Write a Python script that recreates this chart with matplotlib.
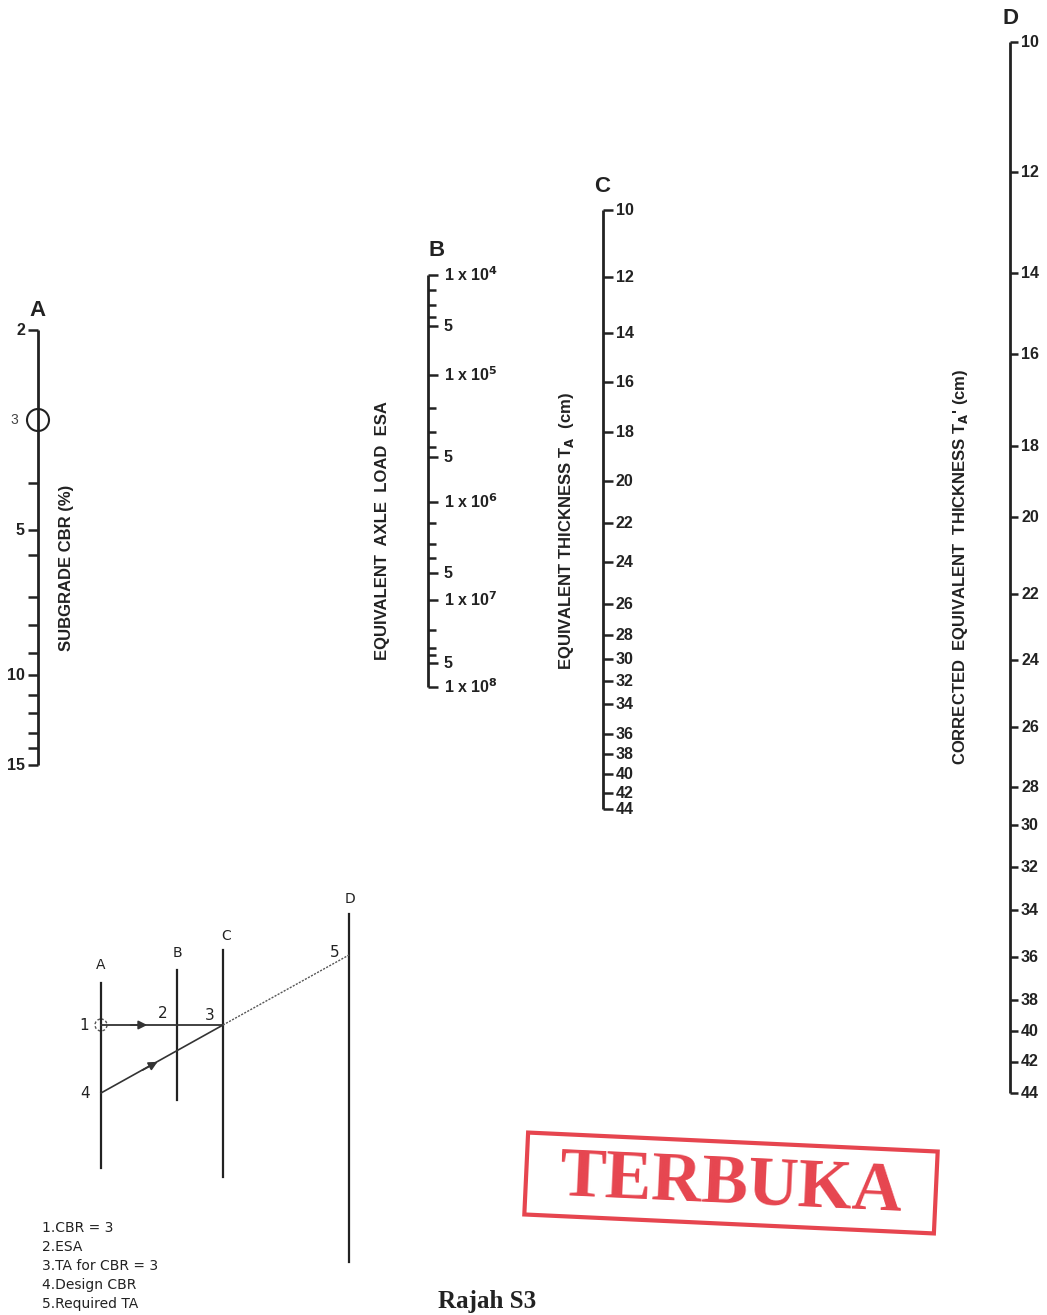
import numpy as np
import matplotlib
matplotlib.use("Agg")
import matplotlib.pyplot as plt
from matplotlib.patches import Circle, Polygon

# ---------------- data ----------------
A_values = [2, 3, 4, 5, 6, 7, 8, 9, 10, 11, 12, 13, 14, 15]
A_labels = {2: "2", 5: "5", 10: "10", 15: "15"}
A_pos = [330, 420, 483, 530, 555, 597, 625, 653, 675, 695, 713, 733, 748, 765]

B_values = [1e4, 2e4, 3e4, 4e4, 5e4, 1e5, 2e5, 3e5, 4e5, 5e5, 1e6, 2e6, 3e6, 4e6, 5e6,
            1e7, 2e7, 3e7, 4e7, 5e7, 1e8]
B_pos = [275, 290, 305, 317, 326, 375, 408, 432, 447, 457, 502, 523, 544, 558, 573,
         600, 630, 648, 655, 663, 687]

C_values = [10, 12, 14, 16, 18, 20, 22, 24, 26, 28, 30, 32, 34, 36, 38, 40, 42, 44]
C_pos = [210, 277, 333, 382, 432, 481, 523, 562, 604, 635, 659, 681, 704, 734, 754, 774, 793, 809]

D_values = [10, 12, 14, 16, 18, 20, 22, 24, 26, 28, 30, 32, 34, 36, 38, 40, 42, 44]
D_pos = [42, 172, 273, 354, 446, 517, 594, 660, 727, 787, 825, 867, 910, 957, 1000, 1031, 1062, 1093]

legend_lines = ["1.CBR = 3", "2.ESA", "3.TA for CBR = 3", "4.Design CBR", "5.Required TA"]

# ---------------- figure ----------------
W, H = 1047, 1315
fig = plt.figure(figsize=(W / 100, H / 100), dpi=100)
ax = fig.add_axes([0, 0, 1, 1])
ax.set_xlim(0, W)
ax.set_ylim(H, 0)
ax.axis("off")

plt.rcParams["mathtext.fontset"] = "custom"
plt.rcParams["mathtext.rm"] = "Liberation Sans Narrow:bold"
plt.rcParams["mathtext.bf"] = "Liberation Sans Narrow:bold"
plt.rcParams["mathtext.it"] = "Liberation Sans Narrow:bold"

NARROW = ["Liberation Sans Narrow", "Liberation Sans", "DejaVu Sans"]
ink = "#222222"
tick_fs = 11.5


def scale(x, values, pos, side, labels, lw_axis=2.0, tick_len=10):
    ax.plot([x, x], [pos[0], pos[-1]], color=ink, lw=lw_axis, solid_capstyle="butt")
    for v, p in zip(values, pos):
        if labels is not None and v not in labels and side == "left" and v == 3:
            continue
        d = -1 if side == "left" else 1
        ax.plot([x, x + d * tick_len], [p, p], color=ink, lw=1.8, solid_capstyle="butt")
        if labels is None:
            txt = str(v)
        else:
            txt = labels.get(v)
        if txt:
            ax.text(x + d * (tick_len + 3), p, txt, ha="right" if side == "left" else "left",
                    va="center", fontsize=tick_fs, fontweight="bold", family=NARROW, color=ink)


# Axis A
scale(38, A_values, A_pos, "left", A_labels)
ax.add_patch(Circle((38, 420), 11, fill=False, lw=1.5, ec=ink))
ax.text(18, 420, "3", ha="right", va="center", fontsize=10, family=NARROW, color="#444444")

# Axis B
B_labels = {1e4: r"1 x 10$^4$", 5e4: "5", 1e5: r"1 x 10$^5$", 5e5: "5",
            1e6: r"1 x 10$^6$", 5e6: "5", 1e7: r"1 x 10$^7$", 5e7: "5", 1e8: r"1 x 10$^8$"}
ax.plot([428, 428], [B_pos[0], B_pos[-1]], color=ink, lw=2.0, solid_capstyle="butt")
for v, p in zip(B_values, B_pos):
    lab = B_labels.get(v)
    ax.plot([428, 438 if lab else 436], [p, p], color=ink, lw=1.8, solid_capstyle="butt")
    if lab:
        ax.text(444, p, lab, ha="left", va="center", fontsize=tick_fs, fontweight="bold",
                family=NARROW, color=ink)

# Axis C and D
scale(603, C_values, C_pos, "right", None)
scale(1010, D_values, D_pos, "right", None, tick_len=8)

# Scale letters
for lx, ly, t in [(38, 310, "A"), (437, 250, "B"), (602, 186, "C"), (1010, 18, "D")]:
    ax.text(lx, ly, t, ha="center", va="center", fontsize=16, fontweight="bold",
            family=["Liberation Sans", "DejaVu Sans"], color=ink)

# Axis titles
title_kw = dict(rotation=90, ha="center", va="center", fontsize=12, fontweight="bold",
                family=NARROW, color=ink)
ax.text(66, 568, "SUBGRADE CBR (%)", **title_kw)
ax.text(383, 531, "EQUIVALENT  AXLE  LOAD  ESA", **title_kw)
ax.text(567, 531, r"EQUIVALENT THICKNESS T$_{\mathrm{A}}$  (cm)", **title_kw)
ax.text(960, 567, r"CORRECTED  EQUIVALENT  THICKNESS T$_{\mathrm{A}}$' (cm)", **title_kw)

# ---------------- inset diagram ----------------
ilw = 1.6
small = dict(fontsize=10, family=["DejaVu Sans"], color=ink, ha="center", va="center")
ax.plot([101, 101], [983, 1168], color=ink, lw=ilw)
ax.plot([177, 177], [970, 1100], color=ink, lw=ilw)
ax.plot([223, 223], [950, 1177], color=ink, lw=ilw)
ax.plot([349, 349], [914, 1262], color=ink, lw=ilw)
for lx, ly, t in [(101, 965, "A"), (177, 953, "B"), (226, 936, "C"), (350, 899, "D")]:
    ax.text(lx, ly, t, **small)

ax.plot([101, 223], [1025, 1025], color="#333333", lw=1.3)
ax.add_patch(Circle((101, 1025), 6, fill=False, lw=1.0, ls=(0, (2, 1.5)), ec="#555555"))
ax.annotate("", xy=(150, 1025), xytext=(128, 1025),
            arrowprops=dict(arrowstyle="-|>", lw=1.2, color="#333333", mutation_scale=13))
ax.plot([101, 223], [1093, 1025], color="#333333", lw=1.2)
ax.annotate("", xy=(160, 1060.5), xytext=(140, 1071.5),
            arrowprops=dict(arrowstyle="-|>", lw=1.2, color="#333333", mutation_scale=13))
ax.plot([223, 349], [1025, 955], color="#555555", lw=1.0, ls=(0, (1.5, 1.0)))

num = dict(fontsize=11, family=["DejaVu Sans"], color=ink, ha="center", va="center")
ax.text(84, 1025, "1", **num)
ax.text(163, 1013, "2", **num)
ax.text(210, 1015, "3", **num)
ax.text(85, 1094, "4", **num)
ax.text(335, 952, "5", **num)

for i, line in enumerate(legend_lines):
    ax.text(42, 1228 + i * 19, line, ha="left", va="center", fontsize=10,
            family=["DejaVu Sans"], color=ink)

# ---------------- stamp ----------------
red = "#e6454f"
cx, cy, sw, sh = 731, 1183, 410, 82
th = np.arctan2(19, 410)
R = np.array([[np.cos(th), -np.sin(th)], [np.sin(th), np.cos(th)]])
corners = np.array([[-sw / 2, -sh / 2], [sw / 2, -sh / 2], [sw / 2, sh / 2], [-sw / 2, sh / 2]])
pts = corners @ R.T + np.array([cx, cy])
ax.add_patch(Polygon(pts, closed=True, fill=False, ec=red, lw=3))
ax.text(cx, cy + 2, "TERBUKA", ha="center", va="center", rotation=-np.degrees(th),
        fontsize=50, fontweight="bold", family=["Liberation Serif", "DejaVu Serif"], color=red)

# caption
ax.text(487, 1308, "Rajah S3", ha="center", va="baseline", fontsize=18, fontweight="bold",
        family=["Liberation Serif", "DejaVu Serif"], color="#222222")

fig.savefig("out.png", dpi=100)
